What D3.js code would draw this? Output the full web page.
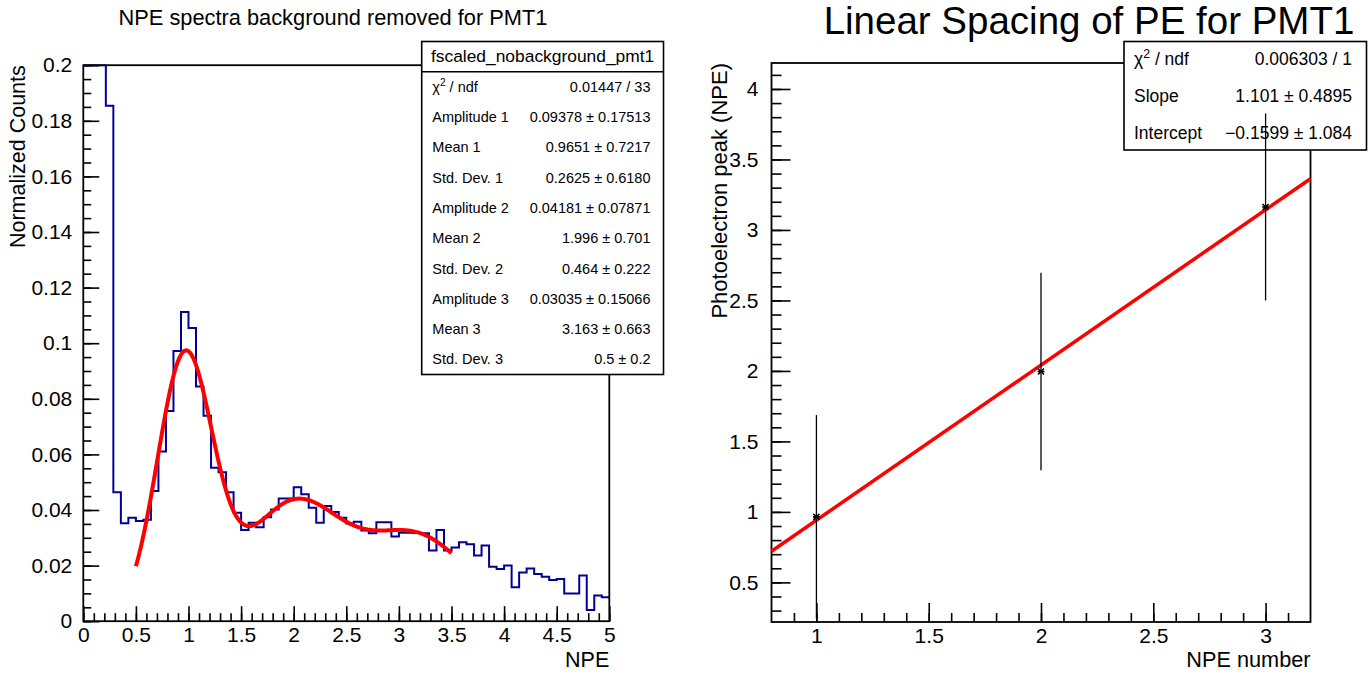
<!DOCTYPE html>
<html>
<head>
<meta charset="utf-8">
<script src="https://cdn.jsdelivr.net/npm/d3@7"></script>
<style>
  html, body { margin: 0; padding: 0; background: #fff; }
  svg { display: block; font-family: "Liberation Sans", Arial, Helvetica, sans-serif; }
</style>
</head>
<body>
<svg id="canvas" width="1368" height="673"></svg>
<script>
// ---------------- Left pad: NPE spectrum with three-Gaussian fit ----------------
const histRange = [0, 5];           // 70 equal bins over 0..5 NPE
const histCounts = [
  0.48, 0.31, 0.215, 0.1854, 0.0464, 0.0352, 0.0372, 0.0360, 0.0365, 0.0468,
  0.0610, 0.0756, 0.0972, 0.1112, 0.1055, 0.0844, 0.0739, 0.0552, 0.0536, 0.0464,
  0.0390, 0.0328, 0.0354, 0.0338, 0.0374, 0.0402, 0.0441, 0.0441, 0.0482, 0.0457,
  0.0408, 0.0354, 0.0414, 0.0393, 0.0372, 0.0351, 0.0358, 0.0326, 0.0316, 0.0356,
  0.0356, 0.0305, 0.0318, 0.0318, 0.0317, 0.0316, 0.0254, 0.0328, 0.0254, 0.0265,
  0.0284, 0.0277, 0.0236, 0.0272, 0.0196, 0.0188, 0.0200, 0.0122, 0.0175, 0.0190,
  0.0170, 0.0160, 0.0148, 0.0152, 0.0100, 0.0100, 0.0164, 0.0040, 0.0092, 0.0086
];
const histYRange = [0, 0.2];

const fitName = "fscaled_nobackground_pmt1";
const fitAmplitudes = [0.09378, 0.04181, 0.03035];
const fitMeans = [0.9651, 1.996, 3.163];
const fitSigmas = [0.2625, 0.464, 0.5];
const fitRange = [0.5, 3.5];
const fitStatLabels = ["χ2 / ndf", "Amplitude 1", "Mean 1", "Std. Dev. 1", "Amplitude 2",
                       "Mean 2", "Std. Dev. 2", "Amplitude 3", "Mean 3", "Std. Dev. 3"];
const fitStatValues = ["0.01447 / 33", "0.09378 ± 0.17513", "0.9651 ± 0.7217", "0.2625 ± 0.6180",
                       "0.04181 ± 0.07871", "1.996 ± 0.701", "0.464 ± 0.222",
                       "0.03035 ± 0.15066", "3.163 ± 0.663", "0.5 ± 0.2"];

const leftXTicks = [0, 0.5, 1, 1.5, 2, 2.5, 3, 3.5, 4, 4.5, 5];
const leftXTickLabels = ["0", "0.5", "1", "1.5", "2", "2.5", "3", "3.5", "4", "4.5", "5"];
const leftYTicks = [0, 0.02, 0.04, 0.06, 0.08, 0.1, 0.12, 0.14, 0.16, 0.18, 0.2];
const leftYTickLabels = ["0", "0.02", "0.04", "0.06", "0.08", "0.1", "0.12", "0.14", "0.16", "0.18", "0.2"];

// ---------------- Right pad: peak position vs photoelectron number ----------------
const peakNumber = [1, 2, 3];
const peakPosition = [0.9651, 1.996, 3.163];
const peakError = [0.7217, 0.701, 0.663];
const lineSlope = 1.101;
const lineIntercept = -0.1599;
const lineStatLabels = ["χ2 / ndf", "Slope", "Intercept"];
const lineStatValues = ["0.006303 / 1", "1.101 ± 0.4895", "−0.1599 ± 1.084"];

const rightXTicks = [1, 1.5, 2, 2.5, 3];
const rightXTickLabels = ["1", "1.5", "2", "2.5", "3"];
const rightYTicks = [0.5, 1, 1.5, 2, 2.5, 3, 3.5, 4];
const rightYTickLabels = ["0.5", "1", "1.5", "2", "2.5", "3", "3.5", "4"];

// ---------------------------------------------------------------------------
const svg = d3.select("#canvas");
const FONT = '"Liberation Sans", Arial, Helvetica, sans-serif';
const HIST_BLUE = "#000099";
const TICK_FONT = 21;

function styleAxis(g, fontSize, tickWidth) {
  g.select(".domain").remove();
  g.attr("font-family", FONT).attr("font-size", fontSize);
  g.selectAll(".tick line").attr("stroke", "#000").attr("stroke-width", tickWidth);
  g.selectAll(".tick text").attr("fill", "#000").attr("font-size", fontSize);
}

function minorValues(lo, hi, step) {
  const out = [];
  const n = Math.round((hi - lo) / step);
  for (let i = 0; i <= n; i++) out.push(lo + i * step);
  return out;
}

// Writes "χ2 / ndf" with the 2 as a superscript
function writeLabel(sel, txt, fs) {
  if (txt.startsWith("χ2")) {
    sel.append("tspan").text("χ");
    sel.append("tspan").attr("font-size", fs * 0.7).attr("dy", -fs * 0.38).text("2");
    sel.append("tspan").attr("dy", fs * 0.38).text(txt.slice(2));
  } else {
    sel.text(txt);
  }
}

// ======================= Left pad =======================
(function leftPad() {
  const fx0 = 83.3, fx1 = 609.3, fy0 = 65.2, fy1 = 621.2;
  const x = d3.scaleLinear().domain(histRange).range([fx0, fx1]);
  const y = d3.scaleLinear().domain(histYRange).range([fy1, fy0]);
  const g = svg.append("g");

  g.append("defs").append("clipPath").attr("id", "clipL")
    .append("rect").attr("x", fx0).attr("y", fy0 - 1).attr("width", fx1 - fx0).attr("height", fy1 - fy0 + 1);

  // histogram outline (steps)
  const nb = histCounts.length;
  const bw = (histRange[1] - histRange[0]) / nb;
  const yc = v => y(Math.min(v, histYRange[1]));
  let p = `M${x(histRange[0])},${yc(histCounts[0])}`;
  histCounts.forEach((v, i) => {
    p += `H${x(histRange[0] + (i + 1) * bw)}`;
    if (i < nb - 1) p += `V${yc(histCounts[i + 1])}`;
  });
  g.append("path").attr("d", p).attr("fill", "none").attr("stroke", HIST_BLUE)
    .attr("stroke-width", 2).attr("clip-path", "url(#clipL)");

  // fit function: sum of three Gaussians
  const f = t => d3.sum(fitAmplitudes, (a, k) =>
    a * Math.exp(-((t - fitMeans[k]) ** 2) / (2 * fitSigmas[k] ** 2)));
  const xs = d3.range(0, 301).map(i => fitRange[0] + (fitRange[1] - fitRange[0]) * i / 300);
  g.append("path")
    .attr("d", d3.line().x(t => x(t)).y(t => y(f(t)))(xs))
    .attr("fill", "none").attr("stroke", "#ff0000").attr("stroke-width", 4)
    .attr("stroke-linejoin", "round");

  // axes
  g.append("g").attr("transform", `translate(0,${fy1})`)
    .call(d3.axisBottom(x).tickValues(minorValues(0, 5, 0.1)).tickFormat("").tickSize(-8))
    .call(s => styleAxis(s, TICK_FONT, 1.6));
  g.append("g").attr("transform", `translate(0,${fy1})`)
    .call(d3.axisBottom(x).tickValues(leftXTicks).tickFormat((d, i) => leftXTickLabels[i])
      .tickSize(-15).tickPadding(6))
    .call(s => styleAxis(s, TICK_FONT, 1.6));
  g.append("g").attr("transform", `translate(${fx0},0)`)
    .call(d3.axisLeft(y).tickValues(minorValues(0, 0.2, 0.005)).tickFormat("").tickSize(-8))
    .call(s => styleAxis(s, TICK_FONT, 1.6));
  g.append("g").attr("transform", `translate(${fx0},0)`)
    .call(d3.axisLeft(y).tickValues(leftYTicks).tickFormat((d, i) => leftYTickLabels[i])
      .tickSize(-16).tickPadding(11))
    .call(s => styleAxis(s, TICK_FONT, 1.6));

  g.append("rect").attr("x", fx0).attr("y", fy0).attr("width", fx1 - fx0).attr("height", fy1 - fy0)
    .attr("fill", "none").attr("stroke", "#000").attr("stroke-width", 1.8);

  // titles
  svg.append("text").attr("x", 333).attr("y", 25).attr("text-anchor", "middle")
    .attr("font-size", 21.8).text("NPE spectra background removed for PMT1");
  svg.append("text").attr("x", fx1).attr("y", 667).attr("text-anchor", "end")
    .attr("font-size", 21.5).text("NPE");
  svg.append("text").attr("transform", `translate(25,${fy0}) rotate(-90)`).attr("text-anchor", "end")
    .attr("font-size", 21.5).text("Normalized Counts");

  // statistics box
  const bx0 = 421.7, bx1 = 663.5, by0 = 41.5, by1 = 374.5, hy = 71.7;
  const sb = svg.append("g");
  sb.append("rect").attr("x", bx0).attr("y", by0).attr("width", bx1 - bx0).attr("height", by1 - by0)
    .attr("fill", "#fff").attr("stroke", "#000").attr("stroke-width", 1.6);
  sb.append("line").attr("x1", bx0).attr("x2", bx1).attr("y1", hy).attr("y2", hy)
    .attr("stroke", "#000").attr("stroke-width", 1.6);
  sb.append("text").attr("x", (bx0 + bx1) / 2).attr("y", 62).attr("text-anchor", "middle")
    .attr("font-size", 17.4).text(fitName);
  const fs = 14.5;
  fitStatLabels.forEach((lab, i) => {
    const yy = 91.7 + 30.3 * i;
    writeLabel(sb.append("text").attr("x", 432.3).attr("y", yy).attr("font-size", fs), lab, fs);
    sb.append("text").attr("x", 650.5).attr("y", yy).attr("text-anchor", "end")
      .attr("font-size", fs).text(fitStatValues[i]);
  });
})();

// ======================= Right pad =======================
(function rightPad() {
  const fx0 = 771.5, fx1 = 1310.5, fy0 = 63, fy1 = 622;
  // axis limits the way the graph painter sets them: 10% margins around the points and error bars
  const xmin = d3.min(peakNumber), xmax = d3.max(peakNumber);
  const dx = 0.1 * (xmax - xmin);
  const lo = d3.min(peakPosition, (v, i) => v - peakError[i]);
  const hi = d3.max(peakPosition, (v, i) => v + peakError[i]);
  const dy = 0.1 * (hi - lo);
  const ylo = (lo - dy < 0 && lo >= 0) ? 0.9 * lo : lo - dy;
  const x = d3.scaleLinear().domain([xmin - dx, xmax + dx]).range([fx0, fx1]);
  const y = d3.scaleLinear().domain([ylo, hi + dy]).range([fy1, fy0]);
  const g = svg.append("g");

  g.append("g").attr("transform", `translate(0,${fy1})`)
    .call(d3.axisBottom(x).tickValues(minorValues(0.9, 3.1, 0.1)).tickFormat("").tickSize(-9))
    .call(s => styleAxis(s, TICK_FONT, 1.6));
  g.append("g").attr("transform", `translate(0,${fy1})`)
    .call(d3.axisBottom(x).tickValues(rightXTicks).tickFormat((d, i) => rightXTickLabels[i])
      .tickSize(-19).tickPadding(6))
    .call(s => styleAxis(s, TICK_FONT, 1.6));
  g.append("g").attr("transform", `translate(${fx0},0)`)
    .call(d3.axisLeft(y).tickValues(minorValues(0.3, 4.1, 0.1)).tickFormat("").tickSize(-10))
    .call(s => styleAxis(s, TICK_FONT, 1.6));
  g.append("g").attr("transform", `translate(${fx0},0)`)
    .call(d3.axisLeft(y).tickValues(rightYTicks).tickFormat((d, i) => rightYTickLabels[i])
      .tickSize(-19).tickPadding(13))
    .call(s => styleAxis(s, TICK_FONT, 1.6));

  g.append("rect").attr("x", fx0).attr("y", fy0).attr("width", fx1 - fx0).attr("height", fy1 - fy0)
    .attr("fill", "none").attr("stroke", "#000").attr("stroke-width", 1.8);

  // titles
  svg.append("text").attr("x", 1089).attr("y", 34).attr("text-anchor", "middle")
    .attr("font-size", 38.5).text("Linear Spacing of PE for PMT1");
  svg.append("text").attr("x", fx1).attr("y", 667).attr("text-anchor", "end")
    .attr("font-size", 21.7).text("NPE number");
  svg.append("text").attr("transform", `translate(727,${fy0}) rotate(-90)`).attr("text-anchor", "end")
    .attr("font-size", 22).text("Photoelectron peak (NPE)");

  // statistics box
  const bx0 = 1124, bx1 = 1366.5, by0 = 41.5, by1 = 150;
  const sb = svg.append("g");
  sb.append("rect").attr("x", bx0).attr("y", by0).attr("width", bx1 - bx0).attr("height", by1 - by0)
    .attr("fill", "#fff").attr("stroke", "#000").attr("stroke-width", 1.6);
  const fs = 17.5;
  lineStatLabels.forEach((lab, i) => {
    const yy = 65 + 37 * i;
    writeLabel(sb.append("text").attr("x", 1134).attr("y", yy).attr("font-size", fs), lab, fs);
    sb.append("text").attr("x", 1352).attr("y", yy).attr("text-anchor", "end")
      .attr("font-size", fs).text(lineStatValues[i]);
  });

  // linear fit over the full axis range
  const [ax0, ax1] = x.domain();
  g.append("line").attr("x1", x(ax0)).attr("y1", y(lineSlope * ax0 + lineIntercept))
    .attr("x2", x(ax1)).attr("y2", y(lineSlope * ax1 + lineIntercept))
    .attr("stroke", "#ff0000").attr("stroke-width", 3.5);

  // points with vertical error bars
  const pts = svg.append("g");
  peakNumber.forEach((n, i) => {
    pts.append("line").attr("x1", x(n)).attr("x2", x(n))
      .attr("y1", y(peakPosition[i] - peakError[i])).attr("y2", y(peakPosition[i] + peakError[i]))
      .attr("stroke", "#000").attr("stroke-width", 1.3);
    const cx = x(n), cy = y(peakPosition[i]), r = 3;
    pts.append("path")
      .attr("d", `M${cx - r},${cy - r}L${cx + r},${cy + r}M${cx - r},${cy + r}L${cx + r},${cy - r}M${cx - r - 0.5},${cy}H${cx + r + 0.5}`)
      .attr("stroke", "#000").attr("stroke-width", 1.6);
  });
})();
</script>
</body>
</html>
